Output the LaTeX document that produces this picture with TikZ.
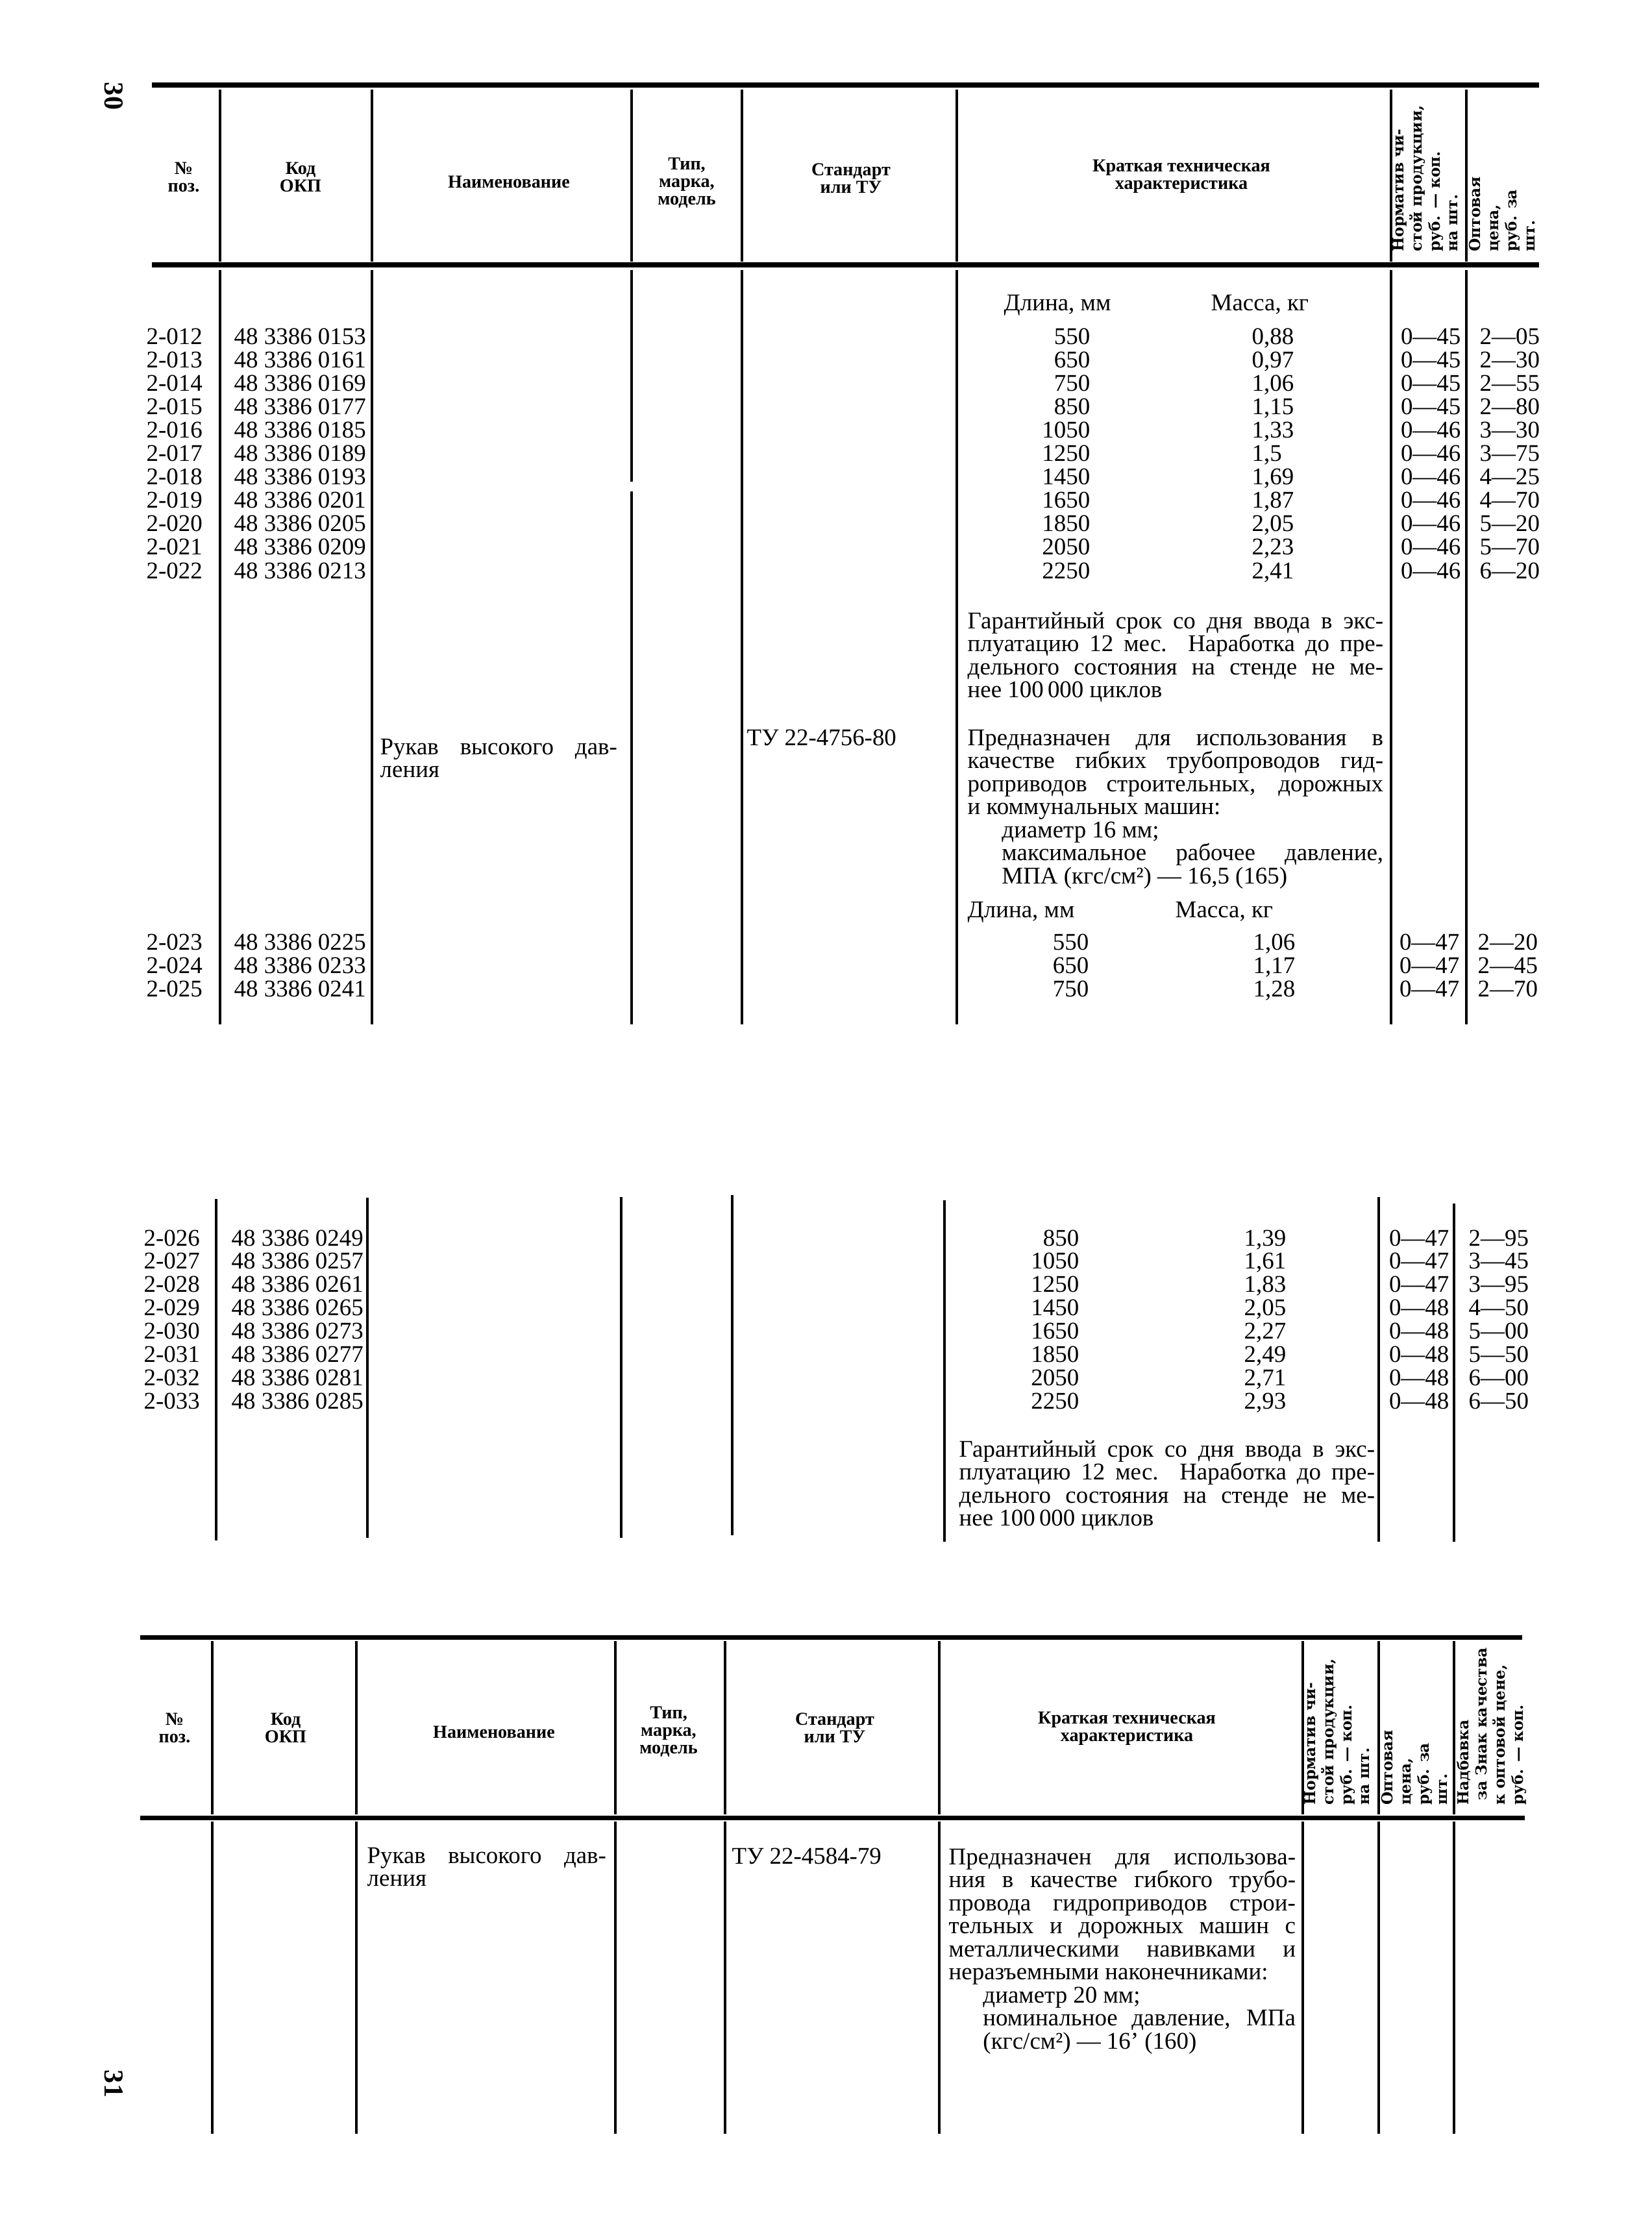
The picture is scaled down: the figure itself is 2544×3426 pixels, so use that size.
\documentclass[tikz,border=0pt]{standalone}
\usepackage{fontspec}
\setmainfont{Liberation Serif}
\newfontfamily\slabfont{DejaVu Serif}
\usetikzlibrary{positioning}

\tikzset{
  hrule/.style={line width=2pt},
  vrule/.style={line width=1.1pt},
  num/.style={inner sep=0pt,font=\fontsize{10.5}{10.2}\selectfont},
  headtxt/.style={inner sep=0pt,align=center,font=\fontsize{8}{7.7}\selectfont\bfseries},
  sidetxt/.style={inner sep=0pt,rotate=90,anchor=north west,align=left,
    font=\fontsize{6.6}{7.9}\selectfont\slabfont\bfseries},
  desc/.style={inner sep=0pt,anchor=base west,align=justify,
    font=\fontsize{10.5}{10.1}\selectfont},
  pagenum/.style={inner sep=0pt,rotate=-90,font=\fontsize{12}{12}\selectfont\bfseries},
}

\begin{document}
\begin{tikzpicture}[x=0.01cm,y=-0.01cm]
\fill[white] (0,0) rectangle (2544,3426);
\useasboundingbox (0,0) rectangle (2544,3426);

% page 30
\node[pagenum] (pg30) at (175,148) {30};
\draw[hrule] (234,131) -- (2371,131);
\draw[hrule] (234,408) -- (2371,408);
\foreach \x in {339,573,973,1143,1474,2143,2259}
  \draw[vrule] (\x,138) -- (\x,403);
\node[headtxt] (hnum) at (283,273) {№\\поз.};
\node[headtxt] (hokp) at (463,273) {Код\\ОКП};
\node[headtxt] (hname) at (784,280) {Наименование};
\node[headtxt] (htype) at (1058,282) {Тип,\\марка,\\модель};
\node[headtxt] (hstd) at (1311,275) {Стандарт\\или ТУ};
\node[headtxt] (hdesc) at (1820,272) {Краткая техническая\\характеристика};
\node[sidetxt] (hnorm) at (2145,388) {Норматив чи-\\стой продукции,\\руб. — коп.\\на шт.};
\node[sidetxt] (hprice) at (2263,388) {Оптовая\\цена,\\руб. за\\шт.};

\foreach \x in {339,573,1143,1474,2143,2259}
  \draw[vrule] (\x,416) -- (\x,1578);
\draw[vrule] (973,416) -- (973,742) (973,757) -- (973,1578);

\node[num,anchor=base west] (len1) at (1546,478) {Длина, мм};
\node[num,anchor=base west] (mass1) at (1865,478) {Масса, кг};
\foreach \nr/\kod/\dl/\ms/\nv/\pr [count=\i from 0] in
  {012/0153/550/{0,88}/45/2—05, 013/0161/650/{0,97}/45/2—30,
   014/0169/750/{1,06}/45/2—55, 015/0177/850/{1,15}/45/2—80,
   016/0185/1050/{1,33}/46/3—30, 017/0189/1250/{1,5}/46/3—75,
   018/0193/1450/{1,69}/46/4—25, 019/0201/1650/{1,87}/46/4—70,
   020/0205/1850/{2,05}/46/5—20, 021/0209/2050/{2,23}/46/5—70,
   022/0213/2250/{2,41}/46/6—20}{
  \node[num,anchor=base west] (pos\nr) at (225,{530+36.1*\i}) {2-\nr};
  \node[num,anchor=base west] (okp\nr) at (360,{530+36.1*\i}) {48 3386 \kod};
  \node[num,anchor=base east] (len\nr) at (1680,{530+36.1*\i}) {\dl};
  \node[num,anchor=base west] (mass\nr) at (1928,{530+36.1*\i}) {\ms};
  \node[num,anchor=base east] (norm\nr) at (2251,{530+36.1*\i}) {0—\nv};
  \node[num,anchor=base west] (price\nr) at (2279,{530+36.1*\i}) {\pr};
}

\node[desc,text width=6.4cm] (warr1) at (1490,968)
  {Гарантийный срок со дня ввода в экс-\linebreak
   плуатацию 12 мес. Наработка до пре-\linebreak
   дельного состояния на стенде не ме-\linebreak
   нее 100\,000 циклов};
\node[desc,text width=3.65cm] (name1) at (585,1162) {Рукав высокого дав-\linebreak ления};
\node[num,anchor=base west] (std1) at (1150,1148) {ТУ 22-4756-80};
\node[desc,text width=6.4cm] (use1) at (1490,1148)
  {Предназначен для использования в\linebreak
   качестве гибких трубопроводов гид-\linebreak
   роприводов строительных, дорожных\linebreak
   и коммунальных машин:\par
   {\leftskip=15pt диаметр 16 мм;\par
   максимальное рабочее давление,\linebreak
   МПА (кгс/см²) — 16,5 (165)\par}};

\node[num,anchor=base west] (len2) at (1490,1413) {Длина, мм};
\node[num,anchor=base west] (mass2) at (1810,1413) {Масса, кг};
\foreach \nr/\kod/\dl/\ms/\nv/\pr [count=\i from 0] in
  {023/0225/550/{1,06}/47/2—20, 024/0233/650/{1,17}/47/2—45,
   025/0241/750/{1,28}/47/2—70}{
  \node[num,anchor=base west] (pos\nr) at (225,{1463+36*\i}) {2-\nr};
  \node[num,anchor=base west] (okp\nr) at (360,{1463+36*\i}) {48 3386 \kod};
  \node[num,anchor=base east] (len\nr) at (1678,{1463+36*\i}) {\dl};
  \node[num,anchor=base west] (mass\nr) at (1930,{1463+36*\i}) {\ms};
  \node[num,anchor=base east] (norm\nr) at (2249,{1463+36*\i}) {0—\nv};
  \node[num,anchor=base west] (price\nr) at (2276,{1463+36*\i}) {\pr};
}

% continuation block
\foreach \x/\a/\b in {333/1847/2373,566/1845/2369,957/1844/2369,1128/1841/2365,
                      1455/1849/2375,2124/1844/2375,2240/1854/2375}
  \draw[vrule] (\x,\a) -- (\x,\b);
\foreach \nr/\kod/\dl/\ms/\nv/\pr [count=\i from 0] in
  {026/0249/850/{1,39}/47/2—95, 027/0257/1050/{1,61}/47/3—45,
   028/0261/1250/{1,83}/47/3—95, 029/0265/1450/{2,05}/48/4—50,
   030/0273/1650/{2,27}/48/5—00, 031/0277/1850/{2,49}/48/5—50,
   032/0281/2050/{2,71}/48/6—00, 033/0285/2250/{2,93}/48/6—50}{
  \node[num,anchor=base west] (pos\nr) at (221,{1919+35.9*\i}) {2-\nr};
  \node[num,anchor=base west] (okp\nr) at (356,{1919+35.9*\i}) {48 3386 \kod};
  \node[num,anchor=base east] (len\nr) at (1663,{1919+35.9*\i}) {\dl};
  \node[num,anchor=base west] (mass\nr) at (1916,{1919+35.9*\i}) {\ms};
  \node[num,anchor=base east] (norm\nr) at (2233,{1919+35.9*\i}) {0—\nv};
  \node[num,anchor=base west] (price\nr) at (2262,{1919+35.9*\i}) {\pr};
}
\node[desc,text width=6.4cm] (warr2) at (1477,2244)
  {Гарантийный срок со дня ввода в экс-\linebreak
   плуатацию 12 мес. Наработка до пре-\linebreak
   дельного состояния на стенде не ме-\linebreak
   нее 100\,000 циклов};

% page 31
\node[pagenum] (pg31) at (175,3210) {31};
\draw[hrule] (216,2522) -- (2345,2522);
\draw[hrule] (216,2800) -- (2349,2800);
\foreach \x in {327,549,948,1117,1447,2007,2124,2240}{
  \draw[vrule] (\x,2528) -- (\x,2795);
  \draw[vrule] (\x,2806) -- (\x,3287);
}
\node[headtxt] (bnum) at (269,2662) {№\\поз.};
\node[headtxt] (bokp) at (440,2662) {Код\\ОКП};
\node[headtxt] (bname) at (761,2668) {Наименование};
\node[headtxt] (btype) at (1030,2668) {Тип,\\марка,\\модель};
\node[headtxt] (bstd) at (1286,2662) {Стандарт\\или ТУ};
\node[headtxt] (bdesc) at (1736,2663) {Краткая техническая\\характеристика};
\node[sidetxt] (bnorm) at (2009,2781) {Норматив чи-\\стой продукции,\\руб. — коп.\\на шт.};
\node[sidetxt] (bprice) at (2128,2781) {Оптовая\\цена,\\руб. за\\шт.};
\node[sidetxt] (bmark) at (2244,2781) {Надбавка\\\hspace{2pt}за Знак качества\\к оптовой цене,\\руб. — коп.};

\node[desc,text width=3.68cm] (name2) at (565,2870) {Рукав высокого дав-\linebreak ления};
\node[num,anchor=base west] (std2) at (1127,2871) {ТУ 22-4584-79};
\node[desc,text width=5.34cm] (use2) at (1461,2872)
  {Предназначен для использова-\linebreak
   ния в качестве гибкого трубо-\linebreak
   провода гидроприводов строи-\linebreak
   тельных и дорожных машин с\linebreak
   металлическими навивками и\linebreak
   неразъемными наконечниками:\par
   {\leftskip=15pt диаметр 20 мм;\par
   номинальное давление, МПа\linebreak
   (кгс/см²) — 16’ (160)\par}};
\end{tikzpicture}
\end{document}
